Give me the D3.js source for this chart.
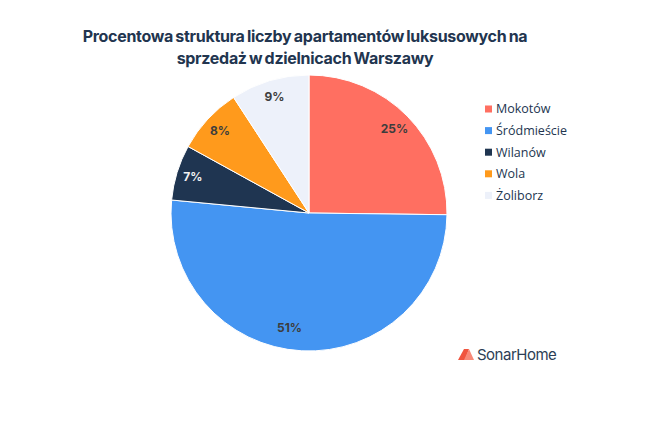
<!DOCTYPE html>
<html>
<head>
<meta charset="utf-8">
<script src="https://cdnjs.cloudflare.com/ajax/libs/d3/7.8.5/d3.min.js"></script>
<style>
body { margin: 0; background: #fff; }
svg { display: block; }
</style>
</head>
<body>
<div id="chart"></div>
<script>
const districts = ["Mokotów", "Śródmieście", "Wilanów", "Wola", "Żoliborz"];
// slice sizes, the printed labels are these rounded
const shares = [25.2, 51.3, 6.5, 7.8, 9.2];
const shareLabels = ["25%", "51%", "7%", "8%", "9%"];
const colors = ["#ff6f61", "#4495f2", "#1f3551", "#ff9a1c", "#edf1fa"];
const labelColors = ["#3d3d3d", "#3d3d3d", "#f2f2f2", "#3d3d3d", "#3d3d3d"];
const titleLines = ["Procentowa struktura liczby apartamentów luksusowych na", "sprzedaż w dzielnicach Warszawy"];

const width = 671, height = 422;
const cx = 309, cy = 213, radius = 138;

const svg = d3.select("#chart").append("svg")
    .attr("width", width)
    .attr("height", height);

svg.selectAll(".title")
    .data(titleLines)
    .join("text")
    .attr("class", "title")
    .attr("x", 305)
    .attr("y", (d, i) => 42 + i * 22)
    .attr("text-anchor", "middle")
    .attr("font-family", "Inter")
    .attr("font-weight", 700)
    .attr("font-size", 16)
    .attr("letter-spacing", -0.3)
    .attr("word-spacing", -1.2)
    .attr("fill", "#22354f")
    .text(d => d);

const pie = d3.pie().sort(null)(shares);
const arc = d3.arc().innerRadius(0).outerRadius(radius);
const labelArc = d3.arc().innerRadius(radius * 0.88).outerRadius(radius * 0.88);
// the big slices have their labels pulled in a little
const labelNudge = [[-1, 1], [-13, -6], [0, 0], [0, 0], [0, 0]];

const g = svg.append("g").attr("transform", `translate(${cx},${cy})`);

g.selectAll("path")
    .data(pie)
    .join("path")
    .attr("d", arc)
    .attr("fill", (d, i) => colors[i])
    .attr("stroke", "#fff")
    .attr("stroke-width", 1);

g.selectAll("text")
    .data(pie)
    .join("text")
    .attr("transform", (d, i) => {
        const [x, y] = labelArc.centroid(d);
        return `translate(${x + labelNudge[i][0]},${y + labelNudge[i][1]})`;
    })
    .attr("text-anchor", "middle")
    .attr("dy", "0.35em")
    .attr("font-family", "Inter")
    .attr("font-weight", 700)
    .attr("font-size", 12)
    .attr("fill", (d, i) => labelColors[i])
    .text((d, i) => shareLabels[i]);

const legend = svg.selectAll(".legend")
    .data(districts)
    .join("g")
    .attr("class", "legend")
    .attr("transform", (d, i) => `translate(485,${109 + i * 21.6})`);

legend.append("rect")
    .attr("x", 0)
    .attr("y", -3.5)
    .attr("width", 7)
    .attr("height", 7)
    .attr("fill", (d, i) => colors[i]);

legend.append("text")
    .attr("x", 11)
    .attr("dy", "0.35em")
    .attr("font-family", "Open Sans")
    .attr("font-size", 12.5)
    .attr("fill", "#22354f")
    .text(d => d);

// logo
const logo = svg.append("g").attr("transform", "translate(458,349)");
logo.append("polygon").attr("points", "0,11 6,0 11,0 7,11").attr("fill", "#f0553f");
logo.append("polygon").attr("points", "6,11 11,0 16,11").attr("fill", "#f88a78");
logo.append("text")
    .attr("x", 19)
    .attr("y", 11)
    .attr("font-family", "Inter")
    .attr("font-weight", 400)
    .attr("font-size", 15)
    .attr("letter-spacing", -0.5)
    .attr("fill", "#2c3e55")
    .text("SonarHome");
</script>
</body>
</html>
